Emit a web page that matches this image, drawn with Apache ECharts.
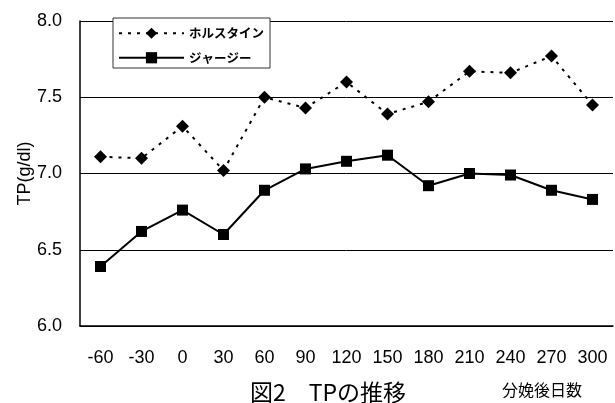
<!DOCTYPE html>
<html>
<head>
<meta charset="utf-8">
<script src="https://cdn.jsdelivr.net/npm/echarts@6/dist/echarts.min.js"></script>
<style>
  html, body { margin: 0; padding: 0; background: #fff; }
  #main { width: 615px; height: 403px; }
</style>
</head>
<body>
<div id="main"></div>
<script>
// 分娩後日数
var days = ["-60", "-30", "0", "30", "60", "90", "120", "150", "180", "210", "240", "270", "300"];
var holstein = [7.11, 7.10, 7.31, 7.02, 7.50, 7.43, 7.60, 7.39, 7.47, 7.67, 7.66, 7.77, 7.45];
var jersey = [6.39, 6.62, 6.76, 6.60, 6.89, 7.03, 7.08, 7.12, 6.92, 7.00, 6.99, 6.89, 6.83];
var yTicks = [6.0, 6.5, 7.0, 7.5, 8.0];

var chart = echarts.init(document.getElementById("main"));

var option = {
  backgroundColor: "#fff",
  animation: false,
  grid: { left: 80, right: 2, top: 21, bottom: 77 },
  legend: {
    orient: "vertical",
    left: 113,
    top: 18,
    padding: [9, 6, 4, 5],
    itemWidth: 65,
    itemHeight: 14,
    itemGap: 12,
    borderColor: "#333",
    borderWidth: 1,
    backgroundColor: "#fff",
    textStyle: {
      fontFamily: "Noto Sans CJK JP",
      fontSize: 12.5,
      fontWeight: "bold",
      color: "#000"
    },
    data: ["ホルスタイン", "ジャージー"]
  },
  xAxis: {
    type: "category",
    data: days,
    boundaryGap: true,
    axisLine: { lineStyle: { color: "#000", width: 1.5 } },
    axisTick: { inside: true, length: 6, lineStyle: { color: "#000" } },
    axisLabel: {
      margin: 23,
      fontFamily: "Liberation Sans",
      fontSize: 18,
      color: "#000"
    }
  },
  yAxis: {
    type: "value",
    min: yTicks[0],
    max: yTicks[yTicks.length - 1],
    interval: 0.5,
    name: "TP(g/dl)",
    nameLocation: "middle",
    nameRotate: 90,
    nameGap: 46,
    nameMoveOverlap: false,
    nameTextStyle: { fontFamily: "Liberation Sans", fontSize: 18, color: "#000" },
    axisLine: { show: true, lineStyle: { color: "#000", width: 1.5 } },
    axisTick: { show: true, inside: true, length: 6, lineStyle: { color: "#000" } },
    splitLine: { show: true, lineStyle: { color: "#000", width: 1 } },
    axisLabel: {
      margin: 18,
      fontFamily: "Liberation Sans",
      fontSize: 18,
      color: "#000",
      formatter: function (v) { return v.toFixed(1); }
    }
  },
  series: [
    {
      name: "ホルスタイン",
      type: "line",
      data: holstein,
      symbol: "diamond",
      symbolSize: 13,
      itemStyle: { color: "#000" },
      lineStyle: { color: "#000", width: 2, type: [3, 6] }
    },
    {
      name: "ジャージー",
      type: "line",
      data: jersey,
      symbol: "rect",
      symbolSize: 11,
      itemStyle: { color: "#000" },
      lineStyle: { color: "#000", width: 2 }
    }
  ],
  graphic: [
    {
      type: "text",
      left: 250,
      top: 381,
      style: {
        text: "図2　TPの推移",
        fontFamily: "Noto Sans CJK JP",
        fontSize: 23,
        fill: "#000"
      }
    },
    {
      type: "text",
      left: 502,
      top: 382,
      style: {
        text: "分娩後日数",
        fontFamily: "Noto Sans CJK JP",
        fontSize: 16,
        fill: "#000"
      }
    }
  ]
};

chart.setOption(option);
</script>
</body>
</html>
